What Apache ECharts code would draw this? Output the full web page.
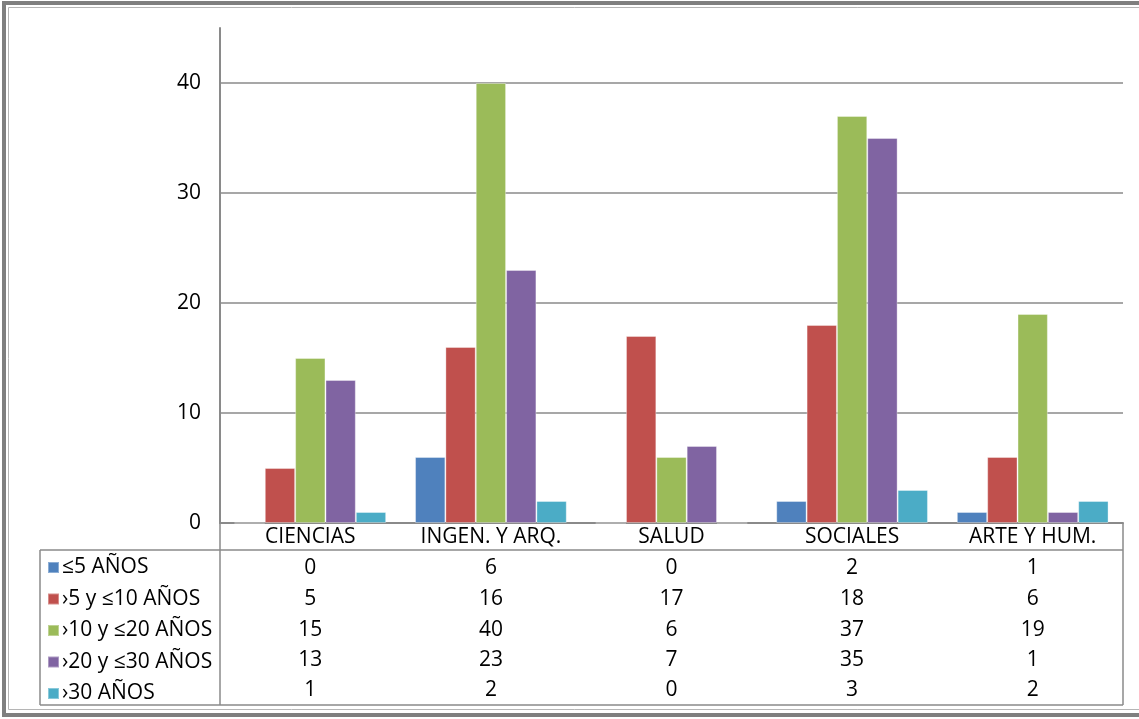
<!DOCTYPE html>
<html>
<head>
<meta charset="utf-8">
<script src="https://cdn.jsdelivr.net/npm/echarts@6/dist/echarts.min.js"></script>
<style>
html,body{margin:0;padding:0;background:#fff;}
#main{width:1139px;height:719px;}
</style>
</head>
<body>
<div id="main"></div>
<script>
var categories = ['CIENCIAS', 'INGEN. Y ARQ.', 'SALUD', 'SOCIALES', 'ARTE Y HUM.'];
var seriesNames = ['≤5 AÑOS', '›5 y ≤10 AÑOS', '›10 y ≤20 AÑOS', '›20 y ≤30 AÑOS', '›30 AÑOS'];
var s1 = [0, 6, 0, 2, 1];
var s2 = [5, 16, 17, 18, 6];
var s3 = [15, 40, 6, 37, 19];
var s4 = [13, 23, 7, 35, 1];
var s5 = [1, 2, 0, 3, 2];
var yTicks = [0, 10, 20, 30, 40];

var allSeries = [s1, s2, s3, s4, s5];
var colors = ['#4F81BD', '#C0504D', '#9BBB59', '#8064A2', '#4BACC6'];
var FONT = 'Open Sans';
var FS = 21;
var gridCol = '#8a8a8a';

var chart = echarts.init(document.getElementById('main'));

var xAxes = [{
  type: 'category',
  data: categories,
  position: 'bottom',
  axisLine: { show: true, lineStyle: { color: gridCol, width: 2 } },
  axisTick: { show: false },
  axisLabel: { interval: 0, margin: 4, color: '#000', fontFamily: FONT, fontSize: FS, lineHeight: 20 }
}];
var offsets = [31, 62, 93, 123, 153];
allSeries.forEach(function (arr, i) {
  xAxes.push({
    type: 'category',
    data: categories,
    position: 'bottom',
    offset: offsets[i],
    axisLine: { show: false },
    axisTick: { show: false },
    splitLine: { show: false },
    axisLabel: {
      interval: 0, margin: 4, color: '#000', fontFamily: FONT, fontSize: FS, lineHeight: 20,
      formatter: function (v, idx) { return String(arr[idx]); }
    }
  });
});

var series = allSeries.map(function (arr, i) {
  return {
    name: seriesNames[i],
    type: 'bar',
    xAxisIndex: 0,
    data: arr,
    barGap: '0%',
    barCategoryGap: '16%',
    itemStyle: { color: colors[i], borderColor: 'rgba(255,255,255,0.35)', borderWidth: 1 },
    emphasis: { disabled: true }
  };
});

var option = {
  animation: false,
  color: colors,
  grid: { left: 220, right: 16, top: 28, bottom: 196, containLabel: false },
  legend: {
    orient: 'vertical',
    left: 47,
    top: 557,
    padding: 0,
    itemWidth: 11,
    itemHeight: 11,
    itemGap: 10.5,
    icon: 'rect',
    data: seriesNames,
    textStyle: { color: '#000', fontFamily: FONT, fontSize: FS, lineHeight: 20, padding: [0, 0, 0, -2] },
    selectedMode: false
  },
  xAxis: xAxes,
  yAxis: {
    type: 'value',
    min: yTicks[0],
    max: 45,
    interval: 10,
    axisLine: { show: true, lineStyle: { color: gridCol, width: 2 } },
    axisTick: { show: false },
    axisLabel: { margin: 19, color: '#000', fontFamily: FONT, fontSize: FS, showMaxLabel: false },
    splitLine: { show: true, showMaxLine: false, lineStyle: { color: gridCol, width: 1.5 } }
  },
  graphic: [
    { type: 'rect', silent: true, shape: { x: 4, y: 3, width: 1200, height: 712 }, style: { fill: null, stroke: '#7f7f7f', lineWidth: 4 } },
    { type: 'rect', silent: true, shape: { x: 8.5, y: 7.5, width: 1200, height: 702 }, style: { fill: null, stroke: '#b5b5b5', lineWidth: 1 } },
    { type: 'line', silent: true, shape: { x1: 40, y1: 550, x2: 1123, y2: 550 }, style: { stroke: gridCol, lineWidth: 1.5 } },
    { type: 'line', silent: true, shape: { x1: 40, y1: 705, x2: 1123, y2: 705 }, style: { stroke: gridCol, lineWidth: 1.5 } },
    { type: 'line', silent: true, shape: { x1: 40, y1: 550, x2: 40, y2: 705 }, style: { stroke: gridCol, lineWidth: 1.5 } },
    { type: 'line', silent: true, shape: { x1: 220, y1: 523, x2: 220, y2: 705 }, style: { stroke: gridCol, lineWidth: 1.5 } },
    { type: 'line', silent: true, shape: { x1: 1123, y1: 523, x2: 1123, y2: 705 }, style: { stroke: gridCol, lineWidth: 1.5 } }
  ],
  series: series
};
chart.setOption(option);
</script>
</body>
</html>
